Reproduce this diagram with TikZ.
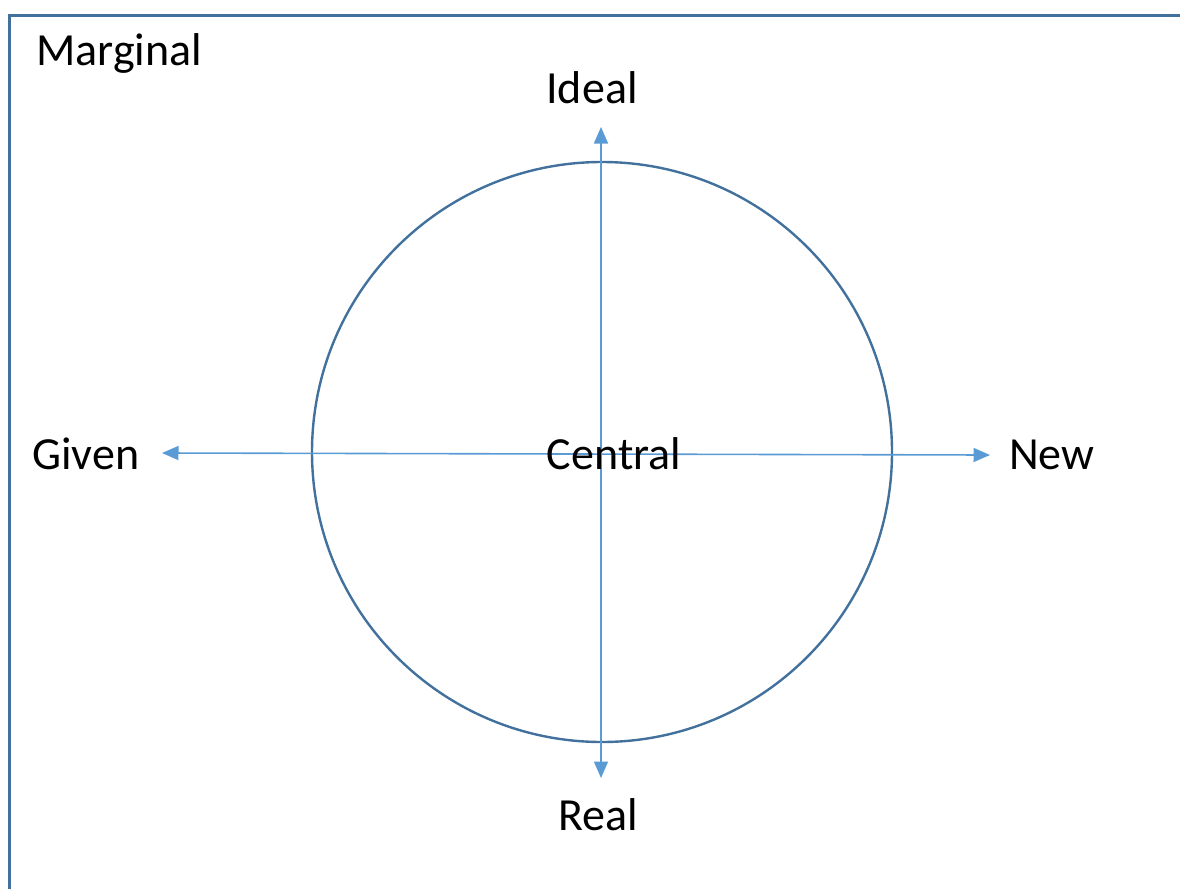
\documentclass[tikz,border=0pt]{standalone}
\usepackage{fontspec}
\setmainfont{Carlito}
\usetikzlibrary{arrows.meta}
\definecolor{framecol}{HTML}{41719C}
\definecolor{arrowcol}{HTML}{5B9BD5}
\begin{document}
\begin{tikzpicture}[x=1pt,y=-1pt,
  lbl/.style={inner sep=0pt, font=\fontsize{46}{55}\selectfont, text=black},
  axis/.style={draw=arrowcol, line width=1.6pt, {Triangle[length=16.5pt,width=14pt]}-{Triangle[length=16.5pt,width=14pt]}},
  frameline/.style={draw=framecol, line width=3pt},
  ring/.style={circle, draw=framecol, line width=2.4pt, minimum size=580pt, inner sep=0pt}]
\useasboundingbox (0,0) rectangle (1180,889);
% open frame
\coordinate (fr) at (1180,15);
\coordinate (fc) at (9,15);
\coordinate (fb) at (9,889);
\draw[frameline] (fr) -- (fc) -- (fb);
% circle
\node[ring] (c) at (602,452) {};
% axis end points
\coordinate (top) at (601,127);
\coordinate (bot) at (601,778);
\coordinate (lft) at (162,453);
\coordinate (rgt) at (990,455);
\draw[axis] (lft) -- (rgt);
\draw[axis] (top) -- (bot);
% labels
\node[lbl, anchor=base west] (marg) at (36,65) {Marginal};
\node[lbl, anchor=base] (ideal) at (592,103) {Ideal};
\node[lbl, anchor=base] (real) at (598,830) {Real};
\node[lbl, anchor=base west] (given) at (32,469) {Given};
\node[lbl, anchor=base west] (new) at (1009,469) {New};
\node[lbl, anchor=base] (central) at (614,469) {Central};
\end{tikzpicture}
\end{document}
